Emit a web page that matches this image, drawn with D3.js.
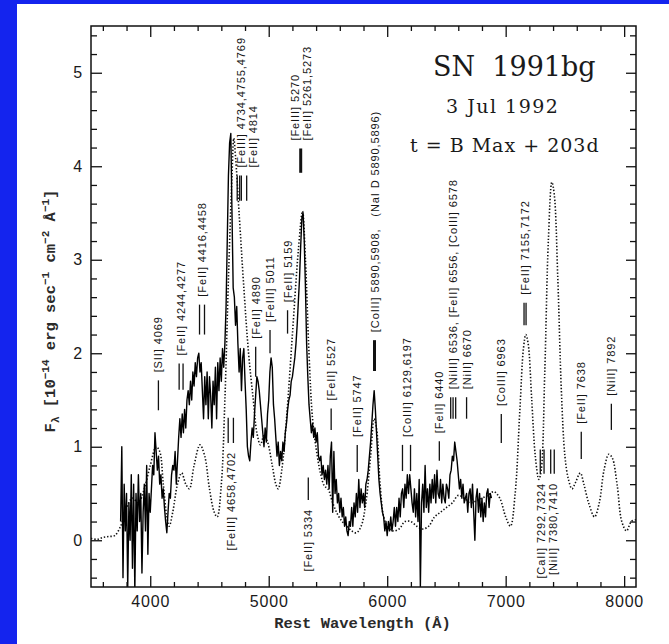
<!DOCTYPE html>
<html>
<head>
<meta charset="utf-8">
<script src="https://cdn.jsdelivr.net/npm/d3@7"></script>
<style>
  html, body { margin: 0; padding: 0; background: #fff; }
  svg { display: block; }
  .lbl { font: 11px "Liberation Sans", Arial, sans-serif; letter-spacing: 0.9px; white-space: pre; fill: #151515; }
  .tick text { font: 16px "Liberation Sans", Arial, sans-serif; letter-spacing: 0.8px; fill: #1a1a1a; }
</style>
</head>
<body>
<svg id="chart" width="669" height="644"></svg>
<script>
// observed spectrum, 10 A steps from 3750 A
const specStart = 3750, specStep = 10;
const specFlux = [
  0.2, 1.0, -0.4, 0.6, 0.1, 0.5, -0.5, 0.4, 0.0, 0.7,
  -0.3, 0.6, -0.55, 0.5, 0.1, 0.7, 0.2, 0.5, -0.35, 0.3,
  0.6, 0.1, 0.8, -0.15, 0.5, 0.3, 0.55, 0.8, 0.7, 1.15,
  0.95, 0.75, 0.9, 0.6, 0.7, 0.45, 0.55, 0.35, 0.2, 0.08,
  0.3, 0.5, 0.45, 0.7, 0.8, 0.75, 0.95, 0.6, 0.85, 1.1,
  1.3, 1.1, 1.35, 1.15, 1.4, 1.2, 1.5, 1.6, 1.45, 1.7,
  1.5, 1.8, 1.65, 1.9, 1.75, 1.95, 2.0, 1.8, 1.9, 1.6,
  1.3, 1.75, 1.45, 1.8, 1.3, 1.75, 1.55, 1.2, 1.7, 1.45,
  1.85, 1.3, 1.9, 1.6, 1.95, 1.7, 2.05, 1.85, 2.1, 2.5,
  3.2, 3.9, 4.25, 4.35, 3.5, 2.7, 2.6, 2.3, 2.5, 2.1,
  1.8, 2.05, 1.6, 1.95, 2.05, 1.7, 1.4, 1.0, 0.9, 0.85,
  1.05, 1.2, 1.1, 1.35, 1.55, 1.75, 1.7, 1.6, 1.45, 1.3,
  1.15, 1.0, 1.2, 1.05, 1.35, 1.5, 1.8, 1.95, 1.85, 1.45,
  1.3, 1.1, 0.9, 1.05, 0.8, 0.95, 0.85, 1.05, 0.95, 1.15,
  1.25, 1.4, 1.5, 1.55, 1.7, 1.75, 1.85, 1.95, 2.1, 2.3,
  2.55, 2.8, 3.15, 3.45, 3.5, 3.2, 2.7, 2.1, 1.75, 1.45,
  1.3, 1.15, 1.25, 1.1, 1.2, 1.05, 1.15, 0.9, 0.85, 0.9,
  0.7, 0.8, 0.65, 0.75, 0.6, 0.8, 0.55, 0.9, 1.05, 0.3,
  0.95, 0.5, 0.65, 0.4, 0.5, 0.3, 0.45, 0.25, 0.35, 0.15,
  0.25, 0.1, 0.05, 0.2, 0.15, 0.35, 0.15, 0.4, 0.25, 0.5,
  0.3, 0.65, 0.35, 0.55, 0.4, 0.5, 0.35, 0.6, 0.65, 0.75,
  0.9, 1.05, 1.25, 1.45, 1.6, 1.4, 1.15, 0.9, 0.65, 0.5,
  0.4, 0.3, 0.25, 0.1, 0.2, 0.05, 0.2, 0.1, 0.25, 0.1,
  0.2, 0.35, 0.15, 0.35, 0.2, 0.45, 0.25, 0.5, 0.55, 0.35,
  0.6, 0.45, 0.7, 0.5, 0.7, 0.55, 0.4, 0.3, 0.55, 0.25,
  0.5, 0.2, 0.65, -0.5, 0.4, 0.6, 0.3, 0.8, 0.35, 0.55,
  0.3, 0.6, 0.4, 0.65, 0.45, 0.7, 0.4, 0.75, 0.5, 0.45,
  0.65, 0.4, 0.6, 0.45, 0.4, 0.6, 0.55, 0.45, 0.7, 0.75,
  0.9, 0.85, 1.05, 0.95, 0.85, 0.7, 0.55, 0.65, 0.45, 0.6,
  0.4, 0.45, 0.5, 0.3, 0.5, 0.55, 0.35, 0.6, 0.3, 0.0,
  0.45, 0.55, 0.3, 0.5, 0.25, 0.45, 0.2, 0.4, 0.25, 0.5,
  0.55, 0.35, 0.5, 0.45
];

// synthetic model (dotted)
const modelWave = [
  3500, 3550, 3600, 3650, 3700, 3750, 3800, 3850, 3900, 3950,
  4000, 4050, 4080, 4110, 4140, 4160, 4190, 4230, 4265, 4300,
  4330, 4370, 4420, 4460, 4500, 4540, 4565, 4600, 4630, 4660,
  4690, 4705, 4720, 4750, 4790, 4830, 4870, 4900, 4930, 4960,
  4990, 5030, 5060, 5080, 5110, 5150, 5200, 5250, 5285, 5310,
  5340, 5370, 5410, 5440, 5470, 5500, 5540, 5580, 5620, 5660,
  5700, 5740, 5780, 5820, 5860, 5890, 5910, 5940, 5970, 6000,
  6050, 6100, 6150, 6200, 6250, 6300, 6350, 6400, 6450, 6500,
  6550, 6600, 6650, 6700, 6750, 6800, 6850, 6900, 6950, 7000,
  7040, 7080, 7120, 7150, 7170, 7190, 7220, 7250, 7280, 7300,
  7330, 7360, 7390, 7410, 7440, 7470, 7500, 7530, 7560, 7590,
  7630, 7660, 7700, 7750, 7790, 7830, 7870, 7900, 7940, 7980,
  8020, 8060, 8100
];
const modelFlux = [
  0.02, 0.01, 0.03, 0.04, 0.05, 0.15, 0.35, 0.45, 0.4, 0.55,
  0.8, 1.0, 0.95, 0.6, 0.25, 0.15, 0.3, 0.6, 0.72, 0.6,
  0.55, 0.8, 1.02, 0.9, 0.55, 0.3, 0.25, 0.6, 1.5, 2.8,
  3.9, 4.3, 4.1, 3.5, 2.7, 2.0, 1.5, 1.15, 1.02, 1.12,
  1.05, 0.8, 0.6, 0.55, 0.75, 1.3, 2.2, 3.1, 3.52, 3.0,
  2.0, 1.3, 0.9, 0.7, 0.58, 0.55, 0.4, 0.28, 0.2, 0.15,
  0.1, 0.08, 0.15, 0.4, 0.9, 1.3, 1.2, 0.6, 0.25, 0.15,
  0.1, 0.12, 0.2, 0.2, 0.15, 0.12, 0.15, 0.25, 0.3, 0.35,
  0.4, 0.48, 0.45, 0.4, 0.42, 0.45, 0.48, 0.52, 0.45, 0.25,
  0.15, 0.5, 1.4, 2.05, 2.2, 2.1, 1.5, 0.9, 0.65, 0.75,
  1.8, 3.2, 3.83, 3.7, 2.8, 1.6, 0.9, 0.65, 0.55, 0.62,
  0.72, 0.6, 0.4, 0.25, 0.4, 0.75, 0.92, 0.88, 0.6, 0.2,
  0.1, 0.2, 0.22
];

const xTicks = [4000, 5000, 6000, 7000, 8000];
const yTicks = [0, 1, 2, 3, 4, 5];
const titleLines = ["SN  1991bg", "3 Jul 1992", "t = B Max + 203d"];
const xTitle = "Rest Wavelength (\u00c5)";

// line identifications: wavelengths, marker span in flux units, label side
const annotations = [
  { lines: [4069], lo: 1.39, hi: 1.71, side: "up", labels: ["[SII] 4069"] },
  { lines: [4244, 4277], lo: 1.61, hi: 1.89, side: "up", labels: ["[FeII] 4244,4277"] },
  { lines: [4416, 4458], lo: 2.20, hi: 2.52, side: "up", labels: ["[FeII] 4416,4458"] },
  { lines: [4658, 4702], lo: 1.04, hi: 1.31, side: "down", labels: ["[FeIII] 4658,4702"] },
  { lines: [4734, 4755, 4769, 4814], lo: 3.63, hi: 3.90, side: "up", labels: ["[FeIII] 4734,4755,4769", "[FeII] 4814"] },
  { lines: [4890], lo: 1.75, hi: 2.07, side: "up", labels: ["[FeII] 4890"] },
  { lines: [5011], lo: 2.00, hi: 2.25, side: "up", labels: ["[FeIII] 5011"] },
  { lines: [5159], lo: 2.21, hi: 2.46, side: "up", labels: ["[FeII] 5159"] },
  { lines: [5270], lo: 3.93, hi: 4.19, side: "up", labels: ["[FeIII] 5270", "[FeII] 5261,5273"] },
  { lines: [5334], lo: 0.43, hi: 0.67, side: "down", labels: ["[FeII] 5334"] },
  { lines: [5527], lo: 1.18, hi: 1.41, side: "up", labels: ["[FeII] 5527"] },
  { lines: [5747], lo: 0.73, hi: 1.02, side: "up", labels: ["[FeII] 5747"] },
  { lines: [5893], lo: 1.81, hi: 2.14, side: "up", labels: ["[CoIII] 5890,5908,   (NaI D 5890,5896)"] },
  { lines: [6129, 6197], lo: 0.74, hi: 1.02, side: "up", labels: ["[CoIII] 6129,6197"] },
  { lines: [6440], lo: 0.85, hi: 1.06, side: "up", labels: ["[FeII] 6440"] },
  { lines: [6536, 6556, 6578], lo: 1.30, hi: 1.53, side: "up", labels: ["[NiIII] 6536, [FeII] 6556, [CoIII] 6578"] },
  { lines: [6670], lo: 1.30, hi: 1.53, side: "up", labels: ["[NiII] 6670"] },
  { lines: [6963], lo: 1.04, hi: 1.35, side: "up", labels: ["[CoIII] 6963"] },
  { lines: [7155, 7172], lo: 2.30, hi: 2.54, side: "up", labels: ["[FeII] 7155,7172"] },
  { lines: [7292, 7324, 7380, 7410], lo: 0.71, hi: 0.97, side: "down", labels: ["[CaII] 7292,7324", "[NiII] 7380,7410"] },
  { lines: [7638], lo: 0.87, hi: 1.16, side: "up", labels: ["[FeII] 7638"] },
  { lines: [7892], lo: 1.18, hi: 1.46, side: "up", labels: ["[NiII] 7892"] }
];
const thickLines = [5270, 5893];

(() => {
  const width = 669, height = 644;
  const frame = { left: 91, right: 636, top: 26, bottom: 587 };
  const BLUE = "#1424ee";

  const svg = d3.select("#chart").attr("viewBox", [0, 0, width, height]);

  svg.append("rect").attr("width", width).attr("height", height).attr("fill", "#fff");
  svg.append("rect").attr("width", width).attr("height", 4).attr("fill", BLUE);
  svg.append("rect").attr("width", 17).attr("height", height).attr("fill", BLUE);

  const x = d3.scaleLinear().domain([3500, 8100]).range([frame.left, frame.right]);
  const y = d3.scaleLinear().domain([-0.5, 5.5]).range([frame.bottom, frame.top]);

  svg.append("clipPath").attr("id", "plot-clip")
    .append("rect")
    .attr("x", frame.left).attr("y", frame.top)
    .attr("width", frame.right - frame.left)
    .attr("height", frame.bottom - frame.top);

  const spectrum = specFlux.map((f, i) => ({ w: specStart + i * specStep, f }));
  const model = modelWave.map((w, i) => ({ w, f: modelFlux[i] }));

  const plot = svg.append("g").attr("clip-path", "url(#plot-clip)");

  plot.append("path")
    .datum(model)
    .attr("fill", "none")
    .attr("stroke", "#111")
    .attr("stroke-width", 1.6)
    .attr("stroke-dasharray", "1.4 1.9")
    .attr("d", d3.line().curve(d3.curveCatmullRom.alpha(0.5)).x(d => x(d.w)).y(d => y(d.f)));

  plot.append("path")
    .datum(spectrum)
    .attr("fill", "none")
    .attr("stroke", "#000")
    .attr("stroke-width", 1.4)
    .attr("stroke-linejoin", "round")
    .attr("d", d3.line().x(d => x(d.w)).y(d => y(d.f)));

  // axes: ticks point inward on all four sides
  const minorX = d3.range(3600, 8100, 200).filter(v => v % 1000 !== 0);
  const minorY = d3.range(-0.4, 5.5, 0.2).filter(v => Math.abs(v - Math.round(v)) > 0.01);
  const noLabel = () => "";

  function addAxis(axis, transform, cls) {
    const g = svg.append("g").attr("class", cls).attr("transform", transform).call(axis);
    g.select(".domain").remove();
    g.selectAll(".tick line").attr("stroke", "#111").attr("stroke-width", 1.3);
    return g;
  }

  addAxis(d3.axisBottom(x).tickValues(xTicks).tickSize(-11).tickPadding(9).tickFormat(d3.format("d")),
    `translate(0,${frame.bottom})`, "x-axis");
  addAxis(d3.axisBottom(x).tickValues(minorX).tickSize(-5).tickFormat(noLabel),
    `translate(0,${frame.bottom})`, "x-minor");
  addAxis(d3.axisTop(x).tickValues(xTicks).tickSize(-11).tickFormat(noLabel),
    `translate(0,${frame.top})`, "x-top");
  addAxis(d3.axisTop(x).tickValues(minorX).tickSize(-5).tickFormat(noLabel),
    `translate(0,${frame.top})`, "x-top-minor");

  addAxis(d3.axisLeft(y).tickValues(yTicks).tickSize(-11).tickPadding(8).tickFormat(d3.format("d")),
    `translate(${frame.left},0)`, "y-axis");
  addAxis(d3.axisLeft(y).tickValues(minorY).tickSize(-6).tickFormat(noLabel),
    `translate(${frame.left},0)`, "y-minor");
  addAxis(d3.axisRight(y).tickValues(yTicks).tickSize(-10).tickFormat(noLabel),
    `translate(${frame.right},0)`, "y-right");
  addAxis(d3.axisRight(y).tickValues(minorY).tickSize(-6).tickFormat(noLabel),
    `translate(${frame.right},0)`, "y-right-minor");

  svg.append("rect")
    .attr("x", frame.left).attr("y", frame.top)
    .attr("width", frame.right - frame.left)
    .attr("height", frame.bottom - frame.top)
    .attr("fill", "none")
    .attr("stroke", "#111")
    .attr("stroke-width", 1.5);

  // line identification markers and labels
  const ann = svg.append("g").attr("class", "annotations");
  const colGap = 12;
  const labelNudge = { 4: 6 };

  annotations.forEach((a, i) => {
    a.lines.forEach(w => {
      ann.append("line")
        .attr("x1", x(w)).attr("x2", x(w))
        .attr("y1", y(a.lo)).attr("y2", y(a.hi))
        .attr("stroke", "#111")
        .attr("stroke-width", thickLines.includes(w) ? 3 : 1.3);
    });
    const cx = d3.mean(a.lines, w => x(w)) + (labelNudge[i] || 0);
    const n = a.labels.length;
    a.labels.forEach((txt, j) => {
      const tx = cx + (j - (n - 1) / 2) * colGap;
      const ty = a.side === "up" ? y(a.hi) - 8 : y(a.lo) + 9;
      ann.append("text")
        .attr("class", "lbl")
        .attr("transform", `translate(${tx},${ty}) rotate(-90)`)
        .attr("text-anchor", a.side === "up" ? "start" : "end")
        .attr("dominant-baseline", "central")
        .text(txt);
    });
  });

  // title block
  const titleFont = '"DejaVu Serif", "Liberation Serif", serif';
  svg.append("text").attr("x", 433).attr("y", 76)
    .style("font", `27px ${titleFont}`).style("white-space", "pre").attr("fill", "#1a1a1a")
    .text(titleLines[0]);
  svg.append("text").attr("x", 446).attr("y", 113)
    .style("font", `19px ${titleFont}`).style("letter-spacing", "1.5px").style("white-space", "pre").attr("fill", "#1a1a1a")
    .text(titleLines[1]);
  svg.append("text").attr("x", 410).attr("y", 152)
    .style("font", `19px ${titleFont}`).style("letter-spacing", "1px").style("white-space", "pre").attr("fill", "#1a1a1a")
    .text(titleLines[2]);

  // axis titles
  const monoFont = '"Liberation Mono", "Courier New", monospace';
  svg.append("text")
    .attr("x", (273 + 452) / 2).attr("y", 628)
    .attr("text-anchor", "middle")
    .style("font", `bold 15.5px ${monoFont}`)
    .attr("fill", "#2a2a2a")
    .text(xTitle);

  const yl = svg.append("text")
    .attr("transform", "translate(55,311) rotate(-90)")
    .attr("text-anchor", "middle")
    .style("font", `bold 15.5px ${monoFont}`)
    .style("white-space", "pre")
    .attr("fill", "#2a2a2a");
  const parts = [
    ["F", 0, null], ["\u03bb", 4, 11], [" [10", -4, null], ["\u221214", -6, 11],
    [" erg sec", 6, null], ["\u22121", -6, 11], [" cm", 6, null], ["\u22122", -6, 11],
    [" \u00c5", 6, null], ["\u22121", -6, 11], ["]", 6, null]
  ];
  parts.forEach(([t, dy, fs]) => {
    const ts = yl.append("tspan").attr("dy", dy).text(t);
    if (fs) ts.style("font-size", fs + "px");
  });
})();
</script>
</body>
</html>
